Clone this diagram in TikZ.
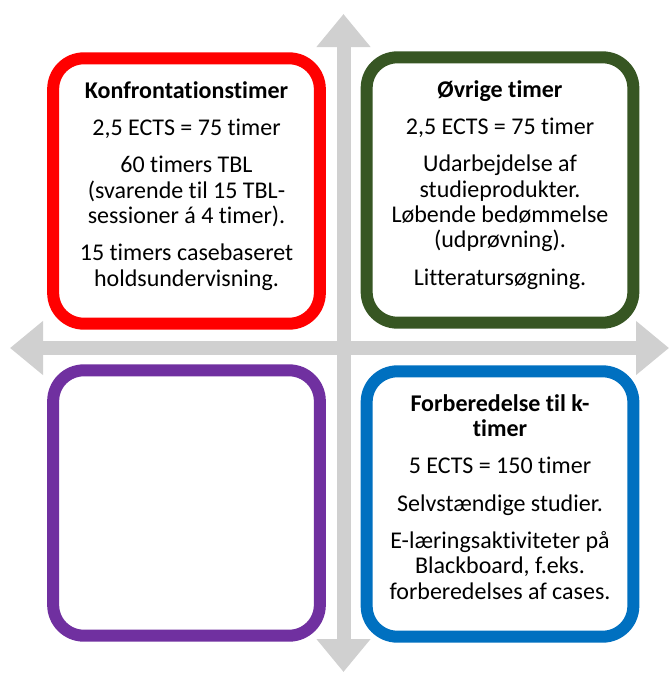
\documentclass[tikz,border=0pt]{standalone}
\usepackage{fontspec}
\setmainfont[Ligatures=NoCommon]{Carlito}
\usepackage{tikz}
\usetikzlibrary{arrows.meta}
\definecolor{kred}{HTML}{FF0000}
\definecolor{kgreen}{HTML}{375623}
\definecolor{kpurple}{HTML}{7030A0}
\definecolor{kblue}{HTML}{0070C0}
\definecolor{kgray}{HTML}{D0D0D0}
\tikzset{>={Triangle[length=24.75pt,width=39pt]}}
\tikzset{
  quadbox/.style={draw=#1, line width=9pt, rounded corners=23pt, fill=white,
    minimum width=200pt, minimum height=199pt},
  boxtext/.style={align=center, font=\fontsize{18}{19}\selectfont},
  axisarrow/.style={draw=kgray, line width=10.5pt, <->}
}

\begin{document}
\begin{tikzpicture}[x=0.75pt,y=-0.75pt]
  \useasboundingbox (0,0) rectangle (669,675);
  % gray cross
  \coordinate (top) at (343.5,14);
  \coordinate (bottom) at (343.5,672);
  \coordinate (left) at (10,348);
  \coordinate (right) at (669,348);
  \draw[axisarrow] (top) -- (bottom);
  \draw[axisarrow] (left) -- (right);

  % the four quadrants
  \node[quadbox=kred] (konf) at (186.5,191) {};
  \node[quadbox=kgreen] (oevrige) at (500,190) {};
  \node[quadbox=kpurple] (tom) at (186.5,503) {};
  \node[quadbox=kblue] (forb) at (500,504) {};

  \node[boxtext] (konftext) at ([yshift=4pt]konf.center)
    {\textbf{Konfrontationstimer}\\[9pt]
     2,5 ECTS = 75 timer\\[9pt]
     60 timers TBL\\(svarende til 15 TBL-\\sessioner á 4 timer).\\[9pt]
     15 timers casebaseret\\holdsundervisning.};
  \node[boxtext] (oevrigetext) at ([yshift=4pt]oevrige.center)
    {\textbf{Øvrige timer}\\[9pt]
     2,5 ECTS = 75 timer\\[9pt]
     Udarbejdelse af\\studieprodukter.\\Løbende bedømmelse\\(udprøvning).\\[9pt]
     Litteratursøgning.};
  \node[boxtext] (forbtext) at ([yshift=5.5pt]forb.center)
    {\textbf{Forberedelse til k-}\\\textbf{timer}\\[9pt]
     5 ECTS = 150 timer\\[9pt]
     Selvstændige studier.\\[9pt]
     E-læringsaktiviteter på\\Blackboard, f.eks.\\forberedelses af cases.};
\end{tikzpicture}
\end{document}
